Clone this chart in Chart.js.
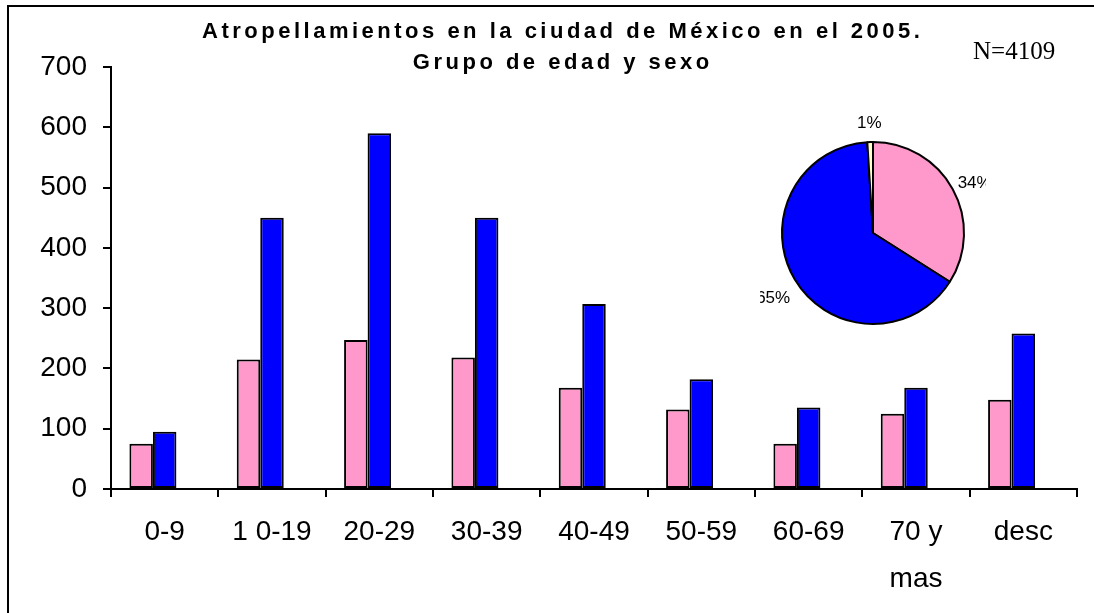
<!DOCTYPE html>
<html><head><meta charset="utf-8">
<script src="https://cdn.jsdelivr.net/npm/chart.js@4/dist/chart.umd.min.js"></script>
<style>
html,body{margin:0;padding:0;background:#fff;}
#wrap{position:relative;width:1094px;height:613px;overflow:hidden;}
#bar{position:absolute;left:0;top:0;}
#pie{position:absolute;left:760px;top:110px;}
</style></head><body>
<div id="wrap"><canvas id="bar" width="1094" height="613"></canvas><canvas id="pie" width="226" height="246"></canvas></div>
<script>
// ---- data ----
const categories = ['0-9', '1 0-19', '20-29', '30-39', '40-49', '50-59', '60-69', ['70 y', 'mas'], 'desc'];
const mujeres = [75, 215, 247, 218, 168, 132, 75, 125, 148];
const hombres = [95, 450, 590, 450, 307, 182, 135, 168, 258];
const seIgnora = [null, null, null, null, null, null, null, null, null]; // no visible bars
const yMin = 0, yMax = 700, yStep = 100;
const titleLines = ['Atropellamientos en la ciudad de México en el 2005.', 'Grupo de edad y sexo'];
const noteText = 'N=4109';
const pieLabels = ['Mujeres', 'Hombres', 'Se ignora'];
const piePercent = [34, 65, 1];

const FONT = "'Liberation Sans', Arial, sans-serif";
const SERIF = "'Liberation Serif', 'Times New Roman', serif";
const PINK = '#FF99CC', BLUE = '#0000FF', CREAM = '#FFFFCC';

const decor = {
  id: 'decor',
  beforeDraw(chart) {
    const c = chart.ctx;
    c.save();
    c.fillStyle = '#fff';
    c.fillRect(0, 0, chart.width, chart.height);
    c.lineWidth = 2;
    c.strokeStyle = '#000';
    c.strokeRect(8, 6, 1200, 800);
    c.restore();
  },
  afterDraw(chart) {
    const c = chart.ctx;
    c.save();
    c.fillStyle = '#000';
    c.textAlign = 'center';
    c.textBaseline = 'alphabetic';
    c.font = 'bold 22px ' + FONT;
    const ls = 3.5;
    c.letterSpacing = ls + 'px';
    c.fillText(titleLines[0], 561 + ls / 2, 38);
    c.fillText(titleLines[1], 561 + ls / 2, 69);
    c.letterSpacing = '0px';
    c.textAlign = 'left';
    c.font = '25px ' + SERIF;
    c.fillText(noteText, 973, 59);
    c.restore();
  }
};

new Chart(document.getElementById('bar'), {
  type: 'bar',
  data: {
    labels: categories,
    datasets: [
      { label: 'Mujeres', data: mujeres, backgroundColor: PINK, borderColor: '#000', borderWidth: 2, borderSkipped: false },
      { label: 'Hombres', data: hombres, backgroundColor: BLUE, borderColor: '#000', borderWidth: 2, borderSkipped: false },
      { label: 'Se ignora', data: seIgnora, backgroundColor: CREAM, borderColor: '#000', borderWidth: 2, borderSkipped: false }
    ]
  },
  options: {
    responsive: false,
    animation: false,
    categoryPercentage: 0.657,
    barPercentage: 1,
    layout: { padding: { left: 0, right: 17, top: 67, bottom: 0 } },
    plugins: { legend: { display: false }, tooltip: { enabled: false }, title: { display: false } },
    scales: {
      x: {
        offset: true,
        grid: { offset: true, drawOnChartArea: false, drawTicks: true, tickLength: 8, color: '#000', lineWidth: 2 },
        border: { display: true, color: '#000', width: 2 },
        ticks: { color: '#000', font: { family: FONT, size: 28, lineHeight: 1.68 }, padding: 12, maxRotation: 0, autoSkip: false },
        afterFit(s) { s.height = 124; }
      },
      y: {
        min: yMin, max: yMax,
        ticks: { stepSize: yStep, color: '#000', font: { family: FONT, size: 28 }, padding: 16 },
        grid: { drawOnChartArea: false, drawTicks: true, tickLength: 8, color: '#000', lineWidth: 2 },
        border: { display: true, color: '#000', width: 2 },
        afterFit(s) { s.width = 111; }
      }
    }
  },
  plugins: [decor]
});

const pieLabelPlugin = {
  id: 'pieLabels',
  afterDraw(chart) {
    const c = chart.ctx;
    const meta = chart.getDatasetMeta(0);
    c.save();
    c.fillStyle = '#000';
    c.font = '17px ' + FONT;
    c.textAlign = 'center';
    c.textBaseline = 'middle';
    meta.data.forEach((arc, i) => {
      const p = arc.getProps(['x', 'y', 'startAngle', 'endAngle', 'outerRadius'], true);
      const mid = (p.startAngle + p.endAngle) / 2;
      const d = p.outerRadius + 25;
      c.fillText(piePercent[i] + '%', p.x + Math.cos(mid) * d, p.y + Math.sin(mid) * d + 6);
    });
    c.restore();
  }
};

new Chart(document.getElementById('pie'), {
  type: 'pie',
  data: {
    labels: pieLabels,
    datasets: [{ data: piePercent, backgroundColor: [PINK, BLUE, CREAM], borderColor: '#000', borderWidth: 2, radius: 91 }]
  },
  options: {
    responsive: false,
    animation: false,
    layout: { padding: 0 },
    plugins: { legend: { display: false }, tooltip: { enabled: false } }
  },
  plugins: [pieLabelPlugin]
});
</script>
</body></html>
